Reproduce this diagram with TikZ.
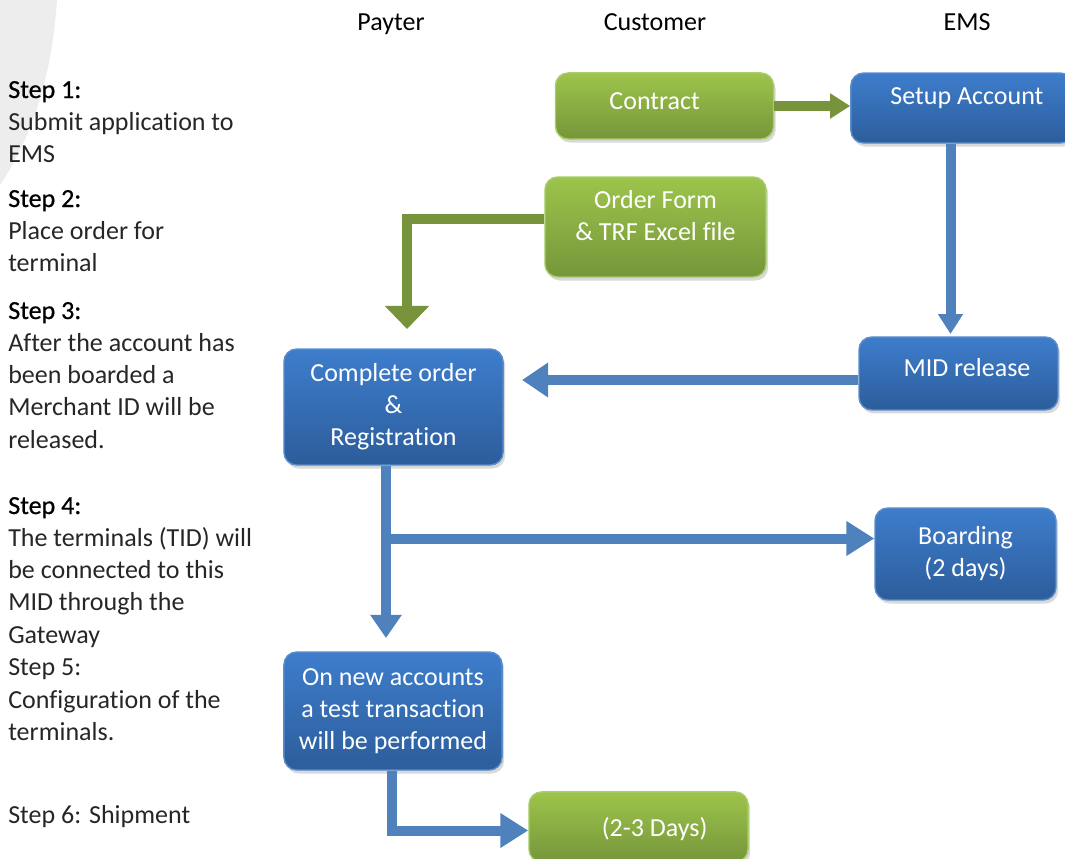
\documentclass[tikz,border=0pt]{standalone}
\usepackage{fontspec}
\setmainfont{Carlito}[Ligatures=NoCommon]
\newfontfamily\headfont[FakeBold=0.6,Ligatures=NoCommon]{Carlito}
\usetikzlibrary{arrows.meta,shadows}

\definecolor{lineblue}{HTML}{4F81BD}
\definecolor{linegreen}{HTML}{77933C}
\definecolor{boxbluetop}{HTML}{3E7DCC}
\definecolor{boxbluebot}{HTML}{2C5D9B}
\definecolor{boxblueedge}{HTML}{5B8DCB}
\definecolor{boxgreentop}{HTML}{9DC44C}
\definecolor{boxgreenbot}{HTML}{76963A}
\definecolor{boxgreenedge}{HTML}{A9CD6A}
\definecolor{bgarc}{HTML}{EDEDED}
\definecolor{bodytext}{HTML}{262626}

\tikzset{
  flowbox/.style={rounded corners=9pt, inner sep=0pt, text=white, line width=1pt,
    drop shadow={shadow xshift=1.5pt, shadow yshift=-2.5pt, opacity=0.3}},
  bluebox/.style={flowbox, draw=boxblueedge, top color=boxbluetop, bottom color=boxbluebot},
  greenbox/.style={flowbox, draw=boxgreenedge, top color=boxgreentop, bottom color=boxgreenbot},
  blueflow/.style={draw=lineblue, line width=7.1pt},
  greenflow/.style={draw=linegreen, line width=7.1pt},
  stepline/.style={anchor=base west, inner sep=0pt, text=bodytext},
  lanehead/.style={anchor=base, inner sep=0pt}
}

\begin{document}
\begin{tikzpicture}[x=0.025cm, y=-0.025cm, font=\fontsize{18.5pt}{22.8pt}\selectfont]
  \useasboundingbox (0,0) rectangle (1065,858);
  % gray arc in the corner
  \fill[bgarc] (0,0) -- (57,0) .. controls (52,80) and (30,140) .. (0,185) -- cycle;
  % lane headers
  \node[lanehead] (payter) at (391,30) {Payter};
  \node[lanehead] (customer) at (655,30) {Customer};
  \node[lanehead] (ems) at (967,30) {EMS};
  % steps on the left
  \foreach \yb/\txt [count=\i] in {
      98/{\headfont\color{black}Step 1:}, 130/Submit application to, 162/EMS,
      207/{\headfont\color{black}Step 2:}, 239/Place order for, 271/terminal,
      319/{\headfont\color{black}Step 3:}, 351/After the account has, 383/been boarded a,
      415/Merchant ID will be, 448/released.,
      514/{\headfont\color{black}Step 4:}, 546/The terminals (TID) will, 578/be connected to this,
      610/MID through the, 643/Gateway, 675/Step 5:, 708/Configuration of the, 740/terminals.,
      823/Step 6: Shipment}
    \node[stepline] (step\i) at (8,\yb) {\txt};
  % boxes
  \node[greenbox, anchor=base, minimum width=155.1pt, text height=26pt, text depth=21pt]
    (contract) at (664.5,109.5) {Contract\kern14pt};
  \node[bluebox, anchor=base, minimum width=158pt, text height=22.4pt, text depth=27.4pt]
    (setup) at (962,104.5) {\kern7pt Setup Account};
  \node[greenbox, align=center, minimum width=157.2pt, minimum height=71.1pt]
    (order) at (655.5,227) {Order Form\\ \& TRF Excel file\\[-5.8pt]\mbox{}};
  \node[bluebox, anchor=base, minimum width=141.5pt, text height=28.1pt, text depth=23.8pt]
    (mid) at (958.5,376.5) {\kern12pt MID release};
  \node[bluebox, align=center, minimum width=155.8pt, minimum height=82.5pt]
    (complete) at (393.5,407) {Complete order\\\&\\Registration};
  \node[bluebox, align=center, minimum width=128.7pt, minimum height=65.4pt]
    (boarding) at (965.5,554) {Boarding\\(2 days)};
  \node[bluebox, align=center, minimum width=155.1pt, minimum height=83.9pt]
    (test) at (393,711) {On new accounts\\a test transaction\\will be performed};
  \node[greenbox, anchor=base, minimum width=155.8pt, text height=31.7pt, text depth=18.1pt]
    (days) at (638.5,836.5) {\kern23pt(2-3 Days)};
  % customer to EMS
  \draw[greenflow, -{Triangle[width=17pt, length=14.2pt]}] (contract.east) -- (contract.east -| setup.west);
  % order form down to payter
  \coordinate (ordbend) at (407,219);
  \coordinate (ordtip) at (407,329);
  \draw[greenflow, -{Triangle[width=30.6pt, length=16.4pt]}] (order.west |- ordbend) -- (ordbend) -- (ordtip);
  % setup to MID
  \coordinate (midtip) at (950.5,334);
  \draw[blueflow, -{Triangle[width=17pt, length=14.2pt]}] (setup.south -| midtip) -- (midtip);
  % MID back to payter
  \coordinate (cmptip) at (522,380);
  \draw[blueflow, -{Triangle[width=23.5pt, length=18.5pt]}] (mid.west |- cmptip) -- (cmptip);
  % complete order down
  \coordinate (tsttip) at (386,638);
  \draw[blueflow, -{Triangle[width=21.3pt, length=16.4pt]}] (complete.south -| tsttip) -- (tsttip);
  % branch to boarding
  \coordinate (branch) at (386,538.5);
  \draw[blueflow, -{Triangle[width=23.5pt, length=19.9pt]}] (branch) -- (branch -| boarding.west);
  % test to shipment
  \coordinate (tstbend) at (392,830.5);
  \draw[blueflow, -{Triangle[width=23.5pt, length=19.9pt]}] (test.south -| tstbend) -- (tstbend) -- (tstbend -| days.west);
\end{tikzpicture}
\end{document}
